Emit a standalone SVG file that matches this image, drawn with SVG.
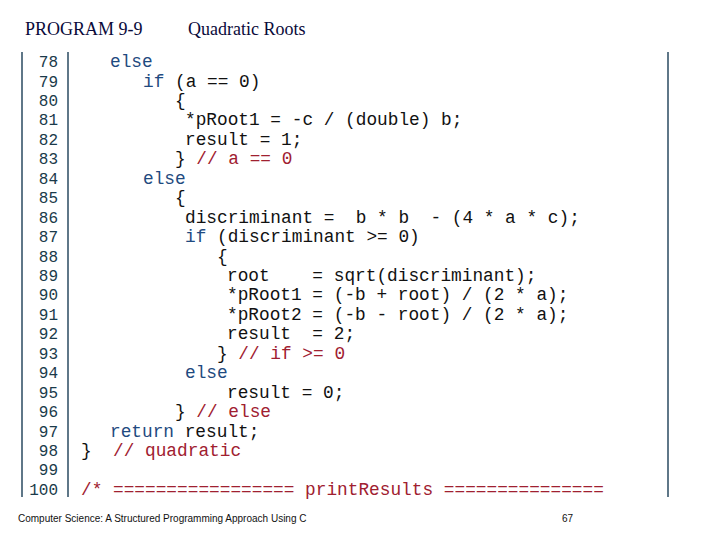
<svg xmlns="http://www.w3.org/2000/svg" width="720" height="540" viewBox="0 0 720 540">
<style>
.t{font-family:"Liberation Serif",serif;font-size:18px;fill:#0a0a3a}
.n{font-family:"Liberation Mono",monospace;font-size:16px;fill:#1a3a4a}
.c{font-family:"Liberation Mono",monospace;font-size:17.8px;fill:#111;white-space:pre}
.k{fill:#1f4a80}.r{fill:#a02030}
.f{font-family:"Liberation Sans Narrow","Liberation Sans",sans-serif;font-size:10px;fill:#111}
</style>
<rect width="720" height="540" fill="#fff"/>
<text class="t" x="25" y="35">PROGRAM 9-9</text>
<text class="t" x="188" y="35">Quadratic Roots</text>
<g id="frame" stroke="#2a4a60" stroke-width="1.5">
<line x1="22" y1="52" x2="22" y2="497"/><line x1="68" y1="52" x2="68" y2="497"/><line x1="668" y1="52" x2="668" y2="497"/>
</g>
<g id="nums" text-anchor="end">
<text class="n" x="58" y="67">78</text><text class="n" x="58" y="86.5">79</text><text class="n" x="58" y="106">80</text><text class="n" x="58" y="125.4">81</text><text class="n" x="58" y="144.8">82</text><text class="n" x="58" y="164.3">83</text><text class="n" x="58" y="183.7">84</text><text class="n" x="58" y="203.2">85</text><text class="n" x="58" y="222.6">86</text><text class="n" x="58" y="242">87</text><text class="n" x="58" y="261.5">88</text><text class="n" x="58" y="281">89</text><text class="n" x="58" y="300.4">90</text><text class="n" x="58" y="319.8">91</text><text class="n" x="58" y="339.3">92</text><text class="n" x="58" y="358.7">93</text><text class="n" x="58" y="378.2">94</text><text class="n" x="58" y="397.6">95</text><text class="n" x="58" y="417">96</text><text class="n" x="58" y="436.5">97</text><text class="n" x="58" y="456">98</text><text class="n" x="58" y="475.4">99</text><text class="n" x="58" y="494.8">100</text>
</g>
<g id="code">
<text class="c k" x="110" y="67">else</text>
<text class="c" x="143" y="86.5"><tspan class="k">if</tspan> (a == 0)</text>
<text class="c" x="175" y="106">{</text>
<text class="c" x="185" y="125.4">*pRoot1 = -c / (double) b;</text>
<text class="c" x="185" y="144.8">result = 1;</text>
<text class="c" x="175" y="164.3">} <tspan class="r">// a == 0</tspan></text>
<text class="c k" x="143" y="183.7">else</text>
<text class="c" x="175" y="203.2">{</text>
<text class="c" x="185" y="222.6">discriminant =  b * b  - (4 * a * c);</text>
<text class="c" x="185" y="242"><tspan class="k">if</tspan> (discriminant &gt;= 0)</text>
<text class="c" x="217" y="261.5">{</text>
<text class="c" x="227" y="281">root    = sqrt(discriminant);</text>
<text class="c" x="227" y="300.4">*pRoot1 = (-b + root) / (2 * a);</text>
<text class="c" x="227" y="319.8">*pRoot2 = (-b - root) / (2 * a);</text>
<text class="c" x="227" y="339.3">result  = 2;</text>
<text class="c" x="217" y="358.7">} <tspan class="r">// if &gt;= 0</tspan></text>
<text class="c k" x="185" y="378.2">else</text>
<text class="c" x="227" y="397.6">result = 0;</text>
<text class="c" x="175" y="417">} <tspan class="r">// else</tspan></text>
<text class="c" x="110" y="436.5"><tspan class="k">return</tspan> result;</text>
<text class="c" x="81" y="456">}  <tspan class="r">// quadratic</tspan></text>
<text class="c r" x="81" y="494.8">/* ================= printResults ===============</text>
</g>
<text class="f" x="18" y="522">Computer Science: A Structured Programming Approach Using C</text>
<text class="f" x="562" y="522">67</text>
</svg>
